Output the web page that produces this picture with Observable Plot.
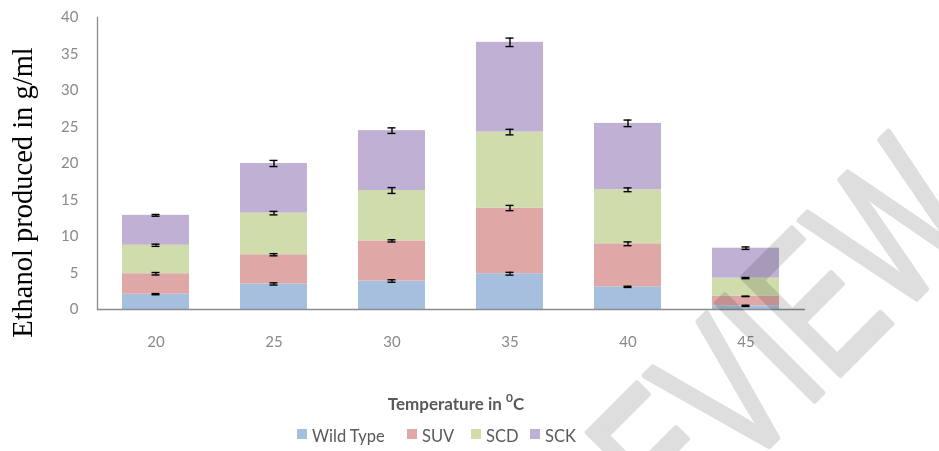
<!DOCTYPE html>
<html>
<head>
<meta charset="utf-8">
<script src="https://cdn.jsdelivr.net/npm/d3@7"></script>
<script src="https://cdn.jsdelivr.net/npm/@observablehq/plot@0.6"></script>
<style>
  html, body { margin: 0; padding: 0; background: #fff; }
  #wrap { position: relative; width: 939px; height: 451px; overflow: hidden; font-family: Lato, "Open Sans", sans-serif; }
  #chart { position: absolute; left: 0; top: 0; }
  #xtitle { position: absolute; left: 0; width: 912px; top: 391px; text-align: center; font-weight: bold; font-size: 17px; color: #595959; }
  #xtitle sup { font-size: 12px; position: relative; top: -1px; }
  .lg { position: absolute; top: 427px; font-size: 16.5px; color: #595959; line-height: 18px; white-space: nowrap; }
  .sw { position: absolute; top: 429px; width: 10px; height: 10px; }
  #overlay { position: absolute; left: 0; top: 0; pointer-events: none; }
</style>
</head>
<body>
<div id="wrap">
  <div id="chart"></div>
  <div id="xtitle">Temperature in <sup>0</sup>C</div>
  <div id="legend"></div>
  <svg id="overlay" width="939" height="451"></svg>
</div>
<script>
// Temperatures (°C) on the x axis and the four strains stacked in each bar
const temps = ["20", "25", "30", "35", "40", "45"];
const series = ["Wild Type", "SUV", "SCD", "SCK"];
const colors = ["#a7bfde", "#dfa7a6", "#cfddac", "#c0b1d4"];
const yTicks = [0, 5, 10, 15, 20, 25, 30, 35, 40];

// Ethanol produced (g/ml) by each strain
const wildType = [2.1, 3.5, 3.9, 4.9, 3.1, 0.5];
const suv      = [2.8, 4.0, 5.5, 9.0, 5.9, 1.3];
const scd      = [3.9, 5.7, 6.9, 10.4, 7.4, 2.5];
const sck      = [4.1, 6.8, 8.2, 12.3, 9.1, 4.1];

// Error (±) of each strain
const wildTypeErr = [0.08, 0.15, 0.17, 0.19, 0.08, 0.08];
const suvErr      = [0.17, 0.15, 0.15, 0.36, 0.26, 0.03];
const scdErr      = [0.15, 0.24, 0.40, 0.38, 0.26, 0.08];
const sckErr      = [0.12, 0.42, 0.38, 0.58, 0.45, 0.17];

const values = [wildType, suv, scd, sck];
const errors = [wildTypeErr, suvErr, scdErr, sckErr];

// Long table for the stacked bars
const rows = [];
series.forEach((s, si) => temps.forEach((t, ti) => rows.push({temp: t, series: s, value: values[si][ti]})));

// Error bars sit on the top of each stacked segment
const errRows = [];
temps.forEach((t, ti) => {
  let top = 0;
  series.forEach((s, si) => {
    top += values[si][ti];
    const e = errors[si][ti];
    errRows.push({temp: t, series: s, lo: top - e, hi: top + e});
  });
});

const grey = "#8c8c8c";
const capInset = 29.5;

const chart = Plot.plot({
  width: 939,
  height: 362,
  marginLeft: 97,
  marginRight: 134,
  marginTop: 17,
  marginBottom: 53,
  style: {fontFamily: "Lato, 'Open Sans', sans-serif", fontSize: "15px", background: "white", overflow: "visible"},
  x: {domain: temps, paddingInner: 0.43, paddingOuter: 0.215, label: null, axis: null},
  y: {domain: [0, 40], label: null, axis: null},
  color: {domain: series, range: colors},
  marks: [
    Plot.barY(rows, {x: "temp", y: "value", fill: "series", order: series}),
    Plot.frame({anchor: "left", stroke: grey, strokeWidth: 1.3}),
    Plot.ruleY([0], {stroke: grey, strokeWidth: 1.5}),
    Plot.ruleX(errRows, {x: "temp", y1: "lo", y2: "hi", stroke: "black", strokeWidth: 1.4}),
    Plot.tickY(errRows, {x: "temp", y: "lo", stroke: "black", strokeWidth: 1.4, insetLeft: capInset, insetRight: capInset}),
    Plot.tickY(errRows, {x: "temp", y: "hi", stroke: "black", strokeWidth: 1.4, insetLeft: capInset, insetRight: capInset}),
    Plot.axisY(yTicks, {tickSize: 0, tickPadding: 19, fill: "#898989", fontSize: 15}),
    Plot.axisX({tickSize: 0, tickPadding: 27, fill: "#898989", fontSize: 15})
  ]
});
document.getElementById("chart").appendChild(chart);

// Legend
const legend = document.getElementById("legend");
const swatchX = [297, 407, 471, 530];
const labelX = [312, 422, 486, 545];
series.forEach((s, i) => {
  const sw = document.createElement("div");
  sw.className = "sw";
  sw.style.left = swatchX[i] + "px";
  sw.style.background = colors[i];
  legend.appendChild(sw);
  const lb = document.createElement("div");
  lb.className = "lg";
  lb.style.left = labelX[i] + "px";
  lb.textContent = s;
  legend.appendChild(lb);
});

// Y axis title and watermark
const ov = d3.select("#overlay");
ov.append("text")
  .attr("transform", "translate(32,192.5) rotate(-90)")
  .attr("text-anchor", "middle")
  .attr("font-family", "'Liberation Serif', 'DejaVu Serif', serif")
  .attr("font-size", 28.5)
  .attr("fill", "#000")
  .text("Ethanol produced in g/ml");

ov.append("text")
  .attr("transform", "translate(765,450) rotate(-45) scale(0.68,1)")
  .attr("text-anchor", "middle")
  .attr("font-family", "'Liberation Sans', Arial, sans-serif")
  .attr("font-size", 200)
  .attr("fill", "#dedede")
  .attr("stroke", "#dedede")
  .attr("stroke-width", 6)
  .attr("stroke-linejoin", "round")
  .style("mix-blend-mode", "multiply")
  .text("PREVIEW");
</script>
</body>
</html>
